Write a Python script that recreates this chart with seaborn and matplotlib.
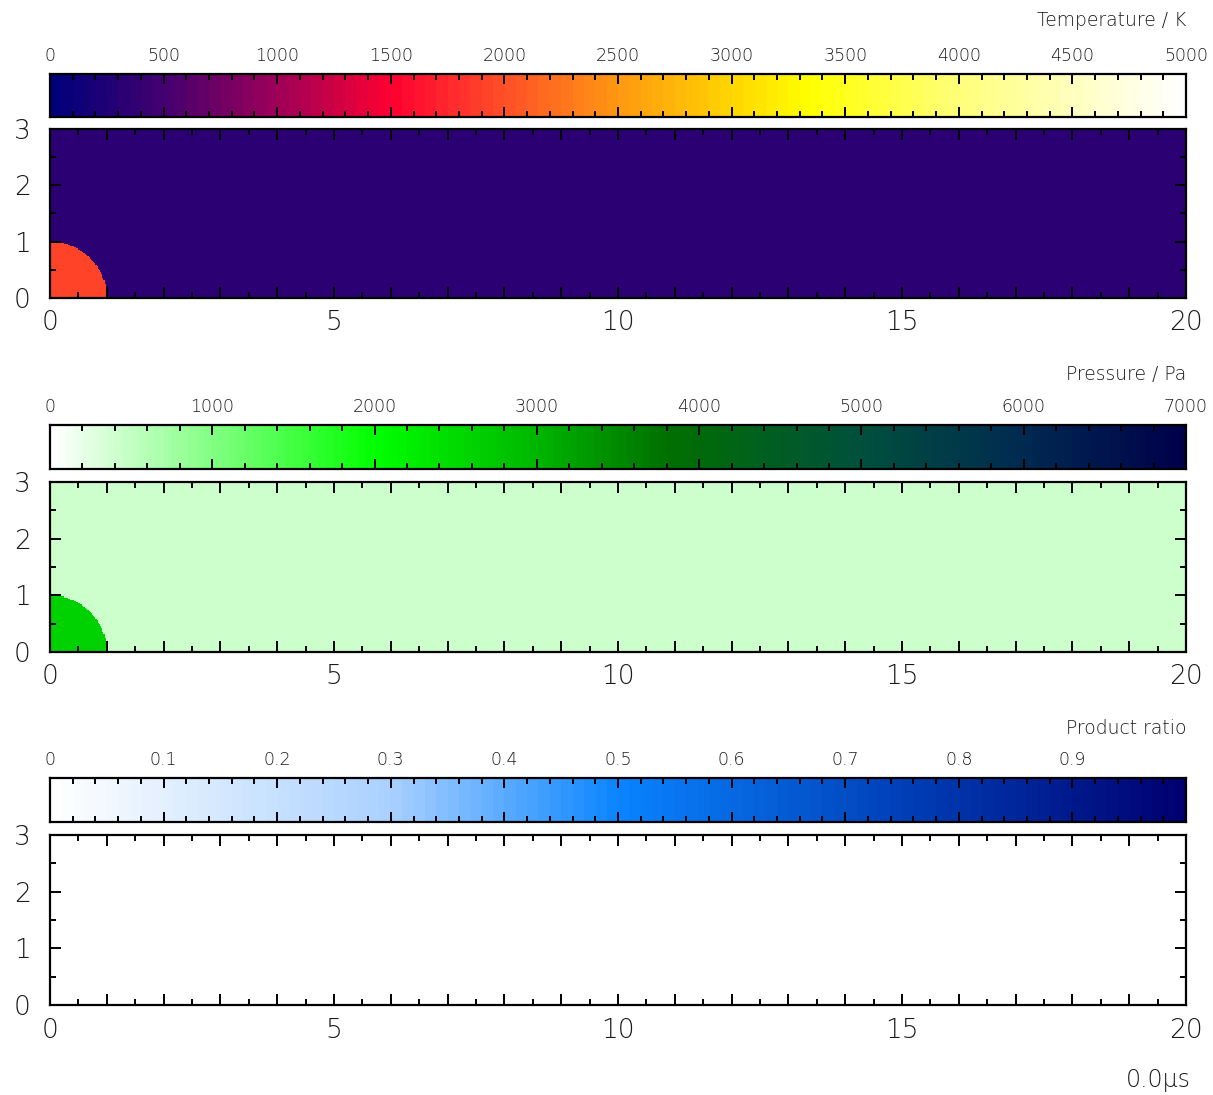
import numpy as np
import matplotlib
matplotlib.use("Agg")
import matplotlib.pyplot as plt
from matplotlib.colors import LinearSegmentedColormap
from matplotlib.ticker import FixedLocator
import seaborn as sns

# ---- simulation snapshot: a hot, pressurised quarter-disc in a 20 x 3 channel ----
domain_length = 20.0
domain_height = 3.0
spot_radius = 1.0
snapshot_time = "0.0\u03bcs"

quantity_titles = ["Temperature / K", "Pressure / Pa", "Product ratio"]
ambient_values = [300.0, 400.0, 0.0]
spot_values = [1900.0, 2600.0, 0.005]
scale_max = [5000.0, 7000.0, 1.0]
band_width = [50.0, 50.0, 0.01]
minor_tick_step = [100.0, 200.0, 0.02]
major_tick_step = [500.0, 1000.0, 0.1]
scale_tick_values = [
    [0, 500, 1000, 1500, 2000, 2500, 3000, 3500, 4000, 4500, 5000],
    [0, 1000, 2000, 3000, 4000, 5000, 6000, 7000],
    [0, 0.1, 0.2, 0.3, 0.4, 0.5, 0.6, 0.7, 0.8, 0.9],
]
scale_tick_labels = [
    ["0", "500", "1000", "1500", "2000", "2500", "3000", "3500", "4000", "4500", "5000"],
    ["0", "1000", "2000", "3000", "4000", "5000", "6000", "7000"],
    ["0", "0.1", "0.2", "0.3", "0.4", "0.5", "0.6", "0.7", "0.8", "0.9"],
]
x_tick_values = [0, 5, 10, 15, 20]

# colour anchors (fraction of scale, colour)
temperature_colors = [(0.0, "#00007a"), (0.1, "#46006e"), (0.2, "#a00058"),
                      (0.3, "#ff0030"), (0.4, "#ff5028"), (0.5, "#ff9812"),
                      (0.6, "#ffd400"), (0.67, "#ffff00"), (0.8, "#ffff78"),
                      (1.0, "#ffffff")]
pressure_colors = [(0.0, "#ffffff"), (0.143, "#80ff80"), (0.286, "#00ff00"),
                   (0.43, "#00b400"), (0.543, "#007000"), (0.714, "#00503c"),
                   (0.857, "#002a50"), (1.0, "#00004a")]
product_colors = [(0.0, "#ffffff"), (0.3, "#a8d0ff"), (0.5, "#0a84ff"),
                  (0.75, "#0040b8"), (1.0, "#000070")]
anchor_sets = [temperature_colors, pressure_colors, product_colors]

# ---- layout (pixel rows converted to figure fractions) ----
W, H = 1213, 1095
left_px, right_px = 50, 1186
bar_rows = [(74, 117), (425, 469), (778, 822)]
field_rows = [(129, 298), (482, 652), (835, 1005)]
title_rows = [20, 374, 728]
text_color = "#1a1a1a"

plt.rcParams["font.family"] = ["DejaVu Sans"]

fig = plt.figure(figsize=(W / 100, H / 100), dpi=100, facecolor="white")

dx = 0.02
nx = int(round(domain_length / dx))
ny = int(round(domain_height / dx))
xc = (np.arange(nx) + 0.5) * dx
yc = (np.arange(ny) + 0.5) * dx
XX, YY = np.meshgrid(xc, yc)
inside = np.hypot(XX, YY) <= spot_radius


def frac_rect(top, bottom):
    return [left_px / W, 1 - bottom / H, (right_px - left_px) / W, (bottom - top) / H]


def frame(ax):
    for sp in ax.spines.values():
        sp.set_visible(True)
        sp.set_linewidth(1.6)
        sp.set_color("black")


for k in range(3):
    n_bands = int(round(scale_max[k] / band_width[k]))
    cmap = LinearSegmentedColormap.from_list(f"scale{k}", anchor_sets[k], N=n_bands)

    # colour scale strip
    cax = fig.add_axes(frac_rect(*bar_rows[k]))
    strip = ((np.arange(n_bands) + 0.5) * band_width[k])[None, :]
    sns.heatmap(strip, ax=cax, cmap=cmap, vmin=0, vmax=scale_max[k], cbar=False,
                xticklabels=False, yticklabels=False, rasterized=True)
    cax.set_xlim(0, n_bands)
    cax.set_ylim(0, 1)
    frame(cax)
    cax.xaxis.set_major_locator(FixedLocator(
        np.arange(0, scale_max[k] + 1e-9, major_tick_step[k]) / band_width[k]))
    cax.xaxis.set_minor_locator(FixedLocator(
        np.arange(0, scale_max[k] + 1e-9, minor_tick_step[k]) / band_width[k]))
    cax.set_yticks([])
    cax.tick_params(axis="x", which="both", direction="in", top=True, bottom=True,
                    labeltop=False, labelbottom=False, color="black", width=1.4)
    cax.tick_params(axis="x", which="major", length=7)
    cax.tick_params(axis="x", which="minor", length=4)
    for v, lab in zip(scale_tick_values[k], scale_tick_labels[k]):
        cax.text(v / band_width[k], 1.2, lab, transform=cax.get_xaxis_transform(),
                 ha="center", va="bottom", fontsize=12.5, color=text_color,
                 fontweight="light")

    fig.text(right_px / W, 1 - title_rows[k] / H, quantity_titles[k], ha="right",
             va="center", fontsize=13.5, color=text_color, fontweight="light")

    # field on the channel
    field = np.where(inside, spot_values[k], ambient_values[k])
    ax = fig.add_axes(frac_rect(*field_rows[k]))
    sns.heatmap(field, ax=ax, cmap=cmap, vmin=0, vmax=scale_max[k], cbar=False,
                xticklabels=False, yticklabels=False, rasterized=True)
    ax.set_xlim(0, nx)
    ax.set_ylim(0, ny)
    frame(ax)
    x_major = np.arange(0, domain_length + 0.01, 1.0)
    y_major = np.arange(0, domain_height + 0.01, 1.0)
    ax.xaxis.set_major_locator(FixedLocator(x_major / dx))
    ax.xaxis.set_minor_locator(FixedLocator(np.arange(0, domain_length + 0.01, 0.5) / dx))
    ax.yaxis.set_major_locator(FixedLocator(y_major / dx))
    ax.yaxis.set_minor_locator(FixedLocator(np.arange(0, domain_height + 0.01, 0.5) / dx))
    ax.set_xticklabels([str(int(v)) if int(v) in x_tick_values else "" for v in x_major])
    ax.set_yticklabels([str(int(v)) for v in y_major])
    ax.tick_params(which="both", direction="in", top=True, bottom=True, left=True,
                   right=True, color="black", width=1.4, labelsize=19,
                   labelcolor=text_color)
    ax.tick_params(which="major", length=8)
    ax.tick_params(which="minor", length=4)
    ax.tick_params(axis="x", which="major", pad=9)
    ax.tick_params(axis="y", which="major", pad=14)
    for lab in ax.get_xticklabels() + ax.get_yticklabels():
        lab.set_fontweight("light")
        lab.set_rotation(0)
    ax.set_xlabel("")
    ax.set_ylabel("")

fig.text(right_px / W + 0.004, 1 - 1068 / H, snapshot_time, ha="right", va="top",
         fontsize=17, color=text_color, fontweight="light")

fig.savefig("out.png", dpi=100, facecolor="white")
